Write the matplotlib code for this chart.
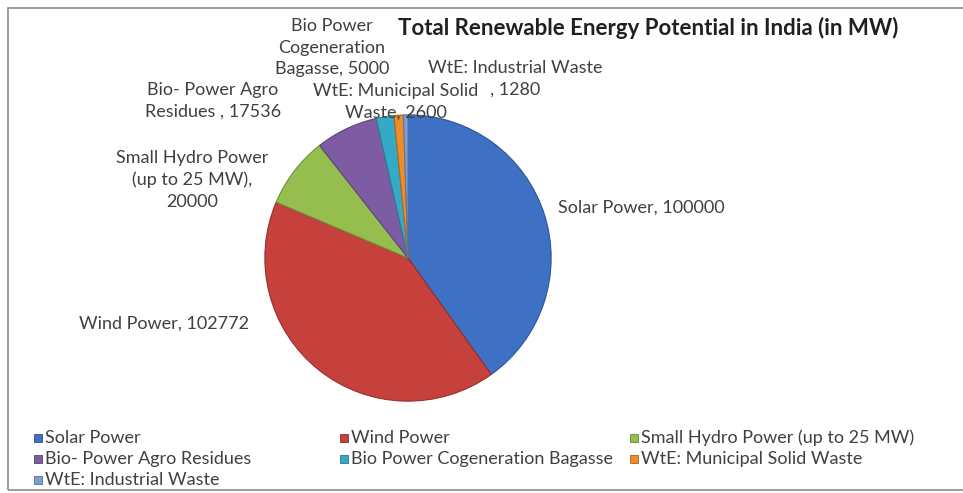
import matplotlib
matplotlib.use("Agg")
import matplotlib.pyplot as plt
from matplotlib.patches import Rectangle
import matplotlib.colors as mcolors

plt.rcParams['font.family'] = ['Lato', 'DejaVu Sans']

# ---- data ----
categories = ["Solar Power", "Wind Power", "Small Hydro Power (up to 25 MW)",
              "Bio- Power Agro Residues", "Bio Power Cogeneration Bagasse",
              "WtE: Municipal Solid Waste", "WtE: Industrial Waste"]
values = [100000, 102772, 20000, 17536, 5000, 2600, 1280]
label_texts = ["Solar Power, 100000", "Wind Power, 102772",
               "Small Hydro Power\n(up to 25 MW),\n20000",
               "Bio- Power Agro\nResidues , 17536",
               "Bio Power\nCogeneration\nBagasse, 5000",
               "WtE: Municipal Solid\nWaste, 2600",
               "WtE: Industrial Waste\n, 1280"]
colors = ["#3E70C4", "#C6403C", "#95BE4E", "#7D5CA3", "#35AAC6", "#F08B2A", "#7D9DD3"]
title = "Total Renewable Energy Potential in India (in MW)"

W, H = 963, 493
fig = plt.figure(figsize=(W / 100, H / 100), dpi=100)

def fx(x):
    return x / W

def fy(y):
    return 1 - y / H

# chart border
fig.patches.append(Rectangle((fx(8), fy(490)), fx(980) - fx(8), fy(8) - fy(490),
                             transform=fig.transFigure, fill=False,
                             edgecolor="#8C8C8C", lw=1.2))

# pie
cx, cy, r = 408, 258, 146
ax = fig.add_axes([fx(cx - r), fy(cy + r), 2 * r / W, 2 * r / H])
wedges, _ = ax.pie(values, colors=colors, startangle=90, counterclock=False,
                   radius=1.0)
for w, c in zip(wedges, colors):
    rgb = mcolors.to_rgb(c)
    w.set_edgecolor(tuple(v * 0.75 for v in rgb))
    w.set_linewidth(0.8)
ax.set_xlim(-1.02, 1.02)
ax.set_ylim(-1.02, 1.02)
ax.set_aspect("equal")
ax.axis("off")

txtcol = "#404040"
fs = 13
# data labels: (x, y, ha) in pixel positions
label_pos = [(558, 208, "left"), (79, 324, "left"), (192, 180, "center"),
             (213, 100.5, "center"), (332, 47.5, "center"), (396, 101.5, "center"),
             (515, 78.5, "center")]
for t, (x, y, ha) in zip(label_texts, label_pos):
    fig.text(fx(x), fy(y), t, ha=ha, va="center", fontsize=fs, color=txtcol,
             linespacing=1.42)

# title
fig.text(fx(648), fy(28), title, ha="center", va="center", fontsize=16,
         fontweight="bold", color="#202020")

# legend (row-wise, 3 columns)
col_x = [34, 340, 630]
row_y = [438, 459, 480]
for i, (name, c) in enumerate(zip(categories, colors)):
    row, col = divmod(i, 3)
    x, y = col_x[col], row_y[row]
    s = 8
    fig.patches.append(Rectangle((fx(x), fy(y + s / 2)), s / W, s / H,
                                 transform=fig.transFigure, facecolor=c,
                                 edgecolor=tuple(v * 0.7 for v in mcolors.to_rgb(c)),
                                 lw=0.6))
    fig.text(fx(x + 11), fy(y), name, ha="left", va="center", fontsize=13,
             color=txtcol)

fig.savefig("out.png", dpi=100)
